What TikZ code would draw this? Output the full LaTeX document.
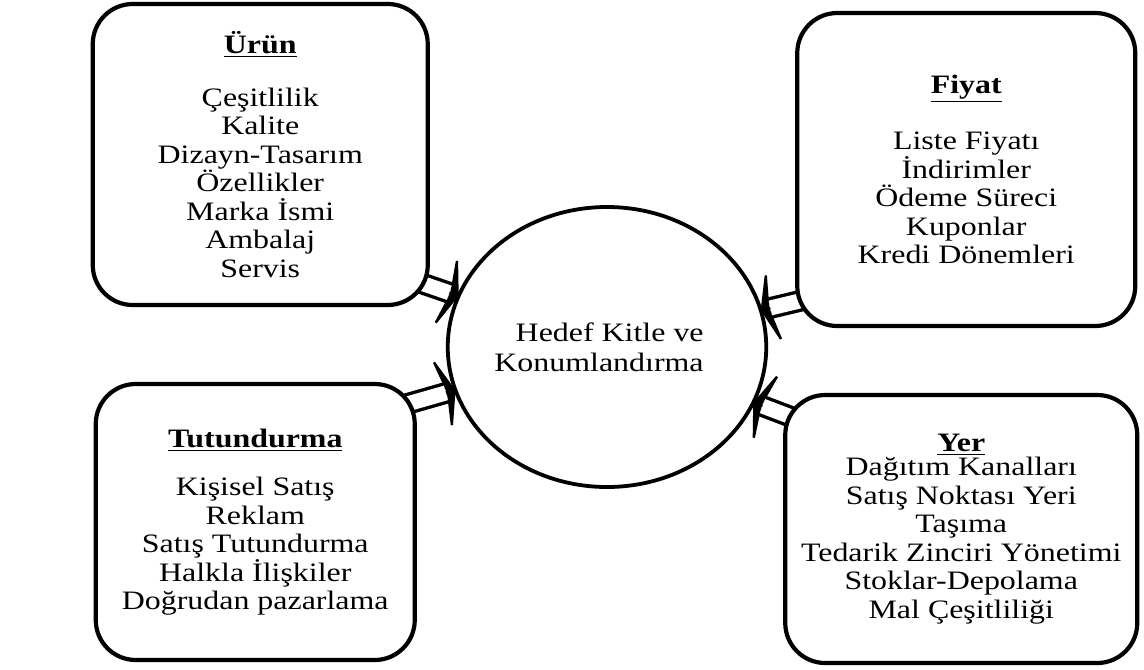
\documentclass[tikz,border=0pt]{standalone}
\usepackage{fontspec}
\setmainfont[FakeStretch=1.2]{Liberation Serif}
\usetikzlibrary{positioning, shapes.geometric, arrows.meta, backgrounds}

\begin{document}
\begin{tikzpicture}[x=0.5pt, y=-0.5pt,
     node distance = 10pt and 10pt,
        box/.style = {rectangle, rounded corners=20pt, draw, line width=2.1pt,
                     fill=white, outer sep=0pt, align=center,
                     font=\fontsize{13.3pt}{14.25pt}\selectfont},
        hub/.style = {ellipse, draw, line width=1.9pt, inner sep=0pt, outer sep=0pt,
                     minimum width=159pt, minimum height=140pt, align=right,
                     font=\fontsize{13.3pt}{15pt}\selectfont},
       feed/.style = {preaction={draw, line width=1.4pt, shorten >=0pt,
                     -{Stealth[length=8pt, width=44pt, inset=3.5pt]}},
                     double=white, double distance=7.5pt, line width=1.7pt,
                     shorten >=5pt, shorten <=-14pt}
                        ]
\useasboundingbox (0,0) rectangle (1144,669);
\node (hedef) [hub] at (607,347) {Hedef Kitle ve\hspace*{8pt}\\ Konumlandırma\hspace*{8pt}};
\node (urun) [box, minimum width=167.5pt, minimum height=150.5pt,
              above left=21pt and 10pt of hedef.west]
      {\textbf{\underline{Ürün}}\\[12pt] Çeşitlilik\\ Kalite\\ Dizayn-Tasarım\\
       Özellikler\\ Marka İsmi\\ Ambalaj\\ Servis};
\node (fiyat) [box, minimum width=169pt, minimum height=156.5pt,
               above right=10.5pt and 15.5pt of hedef.east]
      {\textbf{\underline{Fiyat}}\\[14pt] Liste Fiyatı\\ İndirimler\\ Ödeme Süreci\\
       Kuponlar\\ Kredi Dönemleri};
\node (tutundurma) [box, minimum width=159.5pt, minimum height=138pt,
                    below left=18.5pt and 16.5pt of hedef.west]
      {\textbf{\underline{Tutundurma}}\\[10pt] Kişisel Satış\\ Reklam\\ Satış Tutundurma\\
       Halkla İlişkiler\\ Doğrudan pazarlama};
\node (yer) [box, minimum width=176pt, minimum height=134pt,
             below right=24pt and 9.5pt of hedef.east]
      {\textbf{\underline{Yer}}\\[-2pt] Dağıtım Kanalları\\ Satış Noktası Yeri\\ Taşıma\\
       Tedarik Zinciri Yönetimi\\ Stoklar-Depolama\\ Mal Çeşitliliği};
\begin{pgfonlayer}{background}
\draw[feed] (urun.-38) to (hedef);
\draw[feed] (fiyat.218) to (hedef);
\draw[feed] (tutundurma.37) to (hedef);
\draw[feed] (yer.147) to (hedef);
\end{pgfonlayer}
\end{tikzpicture}
\end{document}
